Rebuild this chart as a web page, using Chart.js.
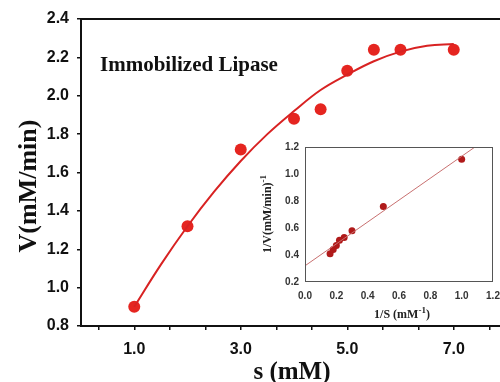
<!DOCTYPE html>
<html>
<head>
<meta charset="utf-8">
<script src="https://cdn.jsdelivr.net/npm/chart.js@4/dist/chart.umd.min.js"></script>
<style>
  html, body { margin:0; padding:0; background:#fff; overflow:hidden; }
  #wrap { position:relative; width:500px; height:382px; overflow:hidden; }
  #main { position:absolute; left:0; top:0; }
  #inset { position:absolute; left:250px; top:130px; }
</style>
</head>
<body>
<div id="wrap">
  <canvas id="main" width="520" height="382"></canvas>
  <canvas id="inset" width="280" height="192"></canvas>
</div>
<script>
// ---- main chart data ----
const sValues = [1, 2, 3, 4, 4.5, 5, 5.5, 6, 7];
const vValues = [0.90, 1.32, 1.72, 1.88, 1.93, 2.13, 2.24, 2.24, 2.24];
const fitS = [1, 1.5, 2, 2.5, 3, 3.5, 4, 4.5, 5, 5.5, 6, 6.5, 7];
const fitV = [0.90, 1.12, 1.32, 1.50, 1.66, 1.80, 1.92, 2.03, 2.11, 2.18, 2.23, 2.26, 2.27];
const xTickValues = [1/3, 1, 5/3, 7/3, 3, 11/3, 13/3, 5, 17/3, 19/3, 7, 23/3];
const xTickLabels = {1: '1.0', 3: '3.0', 5: '5.0', 7: '7.0'};
const yTickLabels = ['0.8','1.0','1.2','1.4','1.6','1.8','2.0','2.2','2.4'];

// ---- inset (Lineweaver-Burk) data ----
const invS = [0.16, 0.18, 0.20, 0.22, 0.25, 0.30, 0.50, 1.00];
const invV = [0.41, 0.44, 0.47, 0.51, 0.53, 0.58, 0.76, 1.11];
const lbLineX = [0, 1.085];
const lbLineY = [0.32, 1.20];

const RED = '#e52520';
const SANS = '"Liberation Sans", Arial, sans-serif';
const SERIF = '"Liberation Serif", "Times New Roman", serif';

const mainDeco = {
  id: 'mainDeco',
  afterDraw(chart) {
    const ctx = chart.ctx, a = chart.chartArea;
    ctx.save();
    ctx.strokeStyle = '#111';
    ctx.lineWidth = 2;
    ctx.beginPath();
    ctx.moveTo(a.left - 1, a.top);
    ctx.lineTo(a.right + 1, a.top);
    ctx.moveTo(a.right, a.top);
    ctx.lineTo(a.right, a.bottom);
    ctx.stroke();
    ctx.fillStyle = '#111';
    ctx.font = 'bold 21px ' + SERIF;
    ctx.textAlign = 'left';
    ctx.textBaseline = 'alphabetic';
    ctx.fillText('Immobilized Lipase', 100, 71);
    ctx.font = 'bold 25px ' + SERIF;
    ctx.textAlign = 'center';
    ctx.fillText('s (mM)', 292, 379);
    ctx.translate(36, 186);
    ctx.rotate(-Math.PI / 2);
    ctx.font = 'bold 26px ' + SERIF;
    ctx.fillText('V(mM/min)', 0, 0);
    ctx.restore();
  }
};

new Chart(document.getElementById('main'), {
  type: 'scatter',
  data: {
    datasets: [
      {
        type: 'line',
        data: fitS.map((s, i) => ({x: s, y: fitV[i]})),
        borderColor: '#d82222',
        borderWidth: 2,
        pointRadius: 0,
        tension: 0.4,
        fill: false
      },
      {
        data: sValues.map((s, i) => ({x: s, y: vValues[i]})),
        backgroundColor: RED,
        borderColor: RED,
        pointRadius: 6,
        borderWidth: 0
      }
    ]
  },
  options: {
    responsive: false,
    animation: false,
    devicePixelRatio: 1,
    layout: { padding: { left: 0, top: 19, right: 13, bottom: 0 } },
    plugins: { legend: { display: false }, tooltip: { enabled: false } },
    scales: {
      x: {
        type: 'linear',
        min: 0, max: 8,
        afterFit(scale) { scale.height = 56; },
        afterBuildTicks(scale) { scale.ticks = xTickValues.map(v => ({value: v})); },
        grid: { display: true, drawOnChartArea: false, drawTicks: true, tickLength: 4, color: '#111', lineWidth: 1.5 },
        border: { display: true, color: '#111', width: 2 },
        ticks: {
          autoSkip: false, maxRotation: 0, padding: 10,
          color: '#111',
          font: { family: SANS, size: 16, weight: 'bold' },
          callback(v) { const r = Math.round(v); return Math.abs(v - r) < 1e-6 && xTickLabels[r] ? xTickLabels[r] : ''; }
        }
      },
      y: {
        min: 0.8, max: 2.4,
        afterFit(scale) { scale.width = 81; },
        grid: { display: true, drawOnChartArea: false, drawTicks: true, tickLength: 4, color: '#111', lineWidth: 1.5 },
        border: { display: true, color: '#111', width: 2 },
        ticks: {
          stepSize: 0.2, padding: 8, color: '#111',
          font: { family: SANS, size: 16, weight: 'bold' },
          callback(v) { const i = Math.round((v - 0.8) / 0.2); return yTickLabels[i] || ''; }
        }
      }
    }
  },
  plugins: [mainDeco]
});

const insetDeco = {
  id: 'insetDeco',
  afterDraw(chart) {
    const ctx = chart.ctx, a = chart.chartArea;
    ctx.save();
    ctx.strokeStyle = '#555';
    ctx.lineWidth = 1;
    ctx.strokeRect(a.left + 0.5, a.top + 0.5, a.right - a.left - 1, a.bottom - a.top - 1);
    ctx.fillStyle = '#222';
    ctx.textBaseline = 'alphabetic';
    // x title with superscript
    const main1 = '1/S (mM', sup = '-1', tail = ')';
    ctx.font = 'bold 12px ' + SERIF;
    const w1 = ctx.measureText(main1).width, w3 = ctx.measureText(tail).width;
    ctx.font = 'bold 9px ' + SERIF;
    const w2 = ctx.measureText(sup).width;
    let x0 = 152 - (w1 + w2 + w3) / 2, yb = 188;
    ctx.textAlign = 'left';
    ctx.font = 'bold 12px ' + SERIF;
    ctx.fillText(main1, x0, yb);
    ctx.font = 'bold 9px ' + SERIF;
    ctx.fillText(sup, x0 + w1, yb - 5);
    ctx.font = 'bold 12px ' + SERIF;
    ctx.fillText(tail, x0 + w1 + w2, yb);
    // y title rotated
    ctx.translate(21, 84);
    ctx.rotate(-Math.PI / 2);
    const m = '1/V(mM/min)';
    ctx.font = 'bold 12px ' + SERIF;
    const wm = ctx.measureText(m).width;
    ctx.font = 'bold 9px ' + SERIF;
    const ws = ctx.measureText('-1').width;
    const sx = -(wm + ws) / 2;
    ctx.font = 'bold 12px ' + SERIF;
    ctx.fillText(m, sx, 0);
    ctx.font = 'bold 9px ' + SERIF;
    ctx.fillText('-1', sx + wm, -5);
    ctx.restore();
  }
};

new Chart(document.getElementById('inset'), {
  type: 'scatter',
  data: {
    datasets: [
      {
        type: 'line',
        data: lbLineX.map((x, i) => ({x: x, y: lbLineY[i]})),
        borderColor: '#c87070',
        borderWidth: 1,
        pointRadius: 0,
        fill: false
      },
      {
        data: invS.map((x, i) => ({x: x, y: invV[i]})),
        backgroundColor: '#b01a1a',
        borderColor: '#b01a1a',
        pointRadius: 3.5,
        borderWidth: 0
      }
    ]
  },
  options: {
    responsive: false,
    animation: false,
    devicePixelRatio: 1,
    layout: { padding: { left: 0, top: 17, right: 37, bottom: 0 } },
    plugins: { legend: { display: false }, tooltip: { enabled: false } },
    scales: {
      x: {
        type: 'linear', min: 0, max: 1.2,
        afterFit(scale) { scale.height = 40; },
        grid: { display: false, drawTicks: false },
        border: { display: false },
        ticks: {
          stepSize: 0.2, padding: 8, color: '#333', maxRotation: 0,
          font: { family: SANS, size: 10, weight: 'bold' },
          callback(v) { return v.toFixed(1); }
        }
      },
      y: {
        min: 0.2, max: 1.2,
        afterFit(scale) { scale.width = 55; },
        grid: { display: false, drawTicks: false },
        border: { display: false },
        ticks: {
          stepSize: 0.2, padding: 6, color: '#333',
          font: { family: SANS, size: 10, weight: 'bold' },
          callback(v) { return v.toFixed(1); }
        }
      }
    }
  },
  plugins: [insetDeco]
});
</script>
</body>
</html>
